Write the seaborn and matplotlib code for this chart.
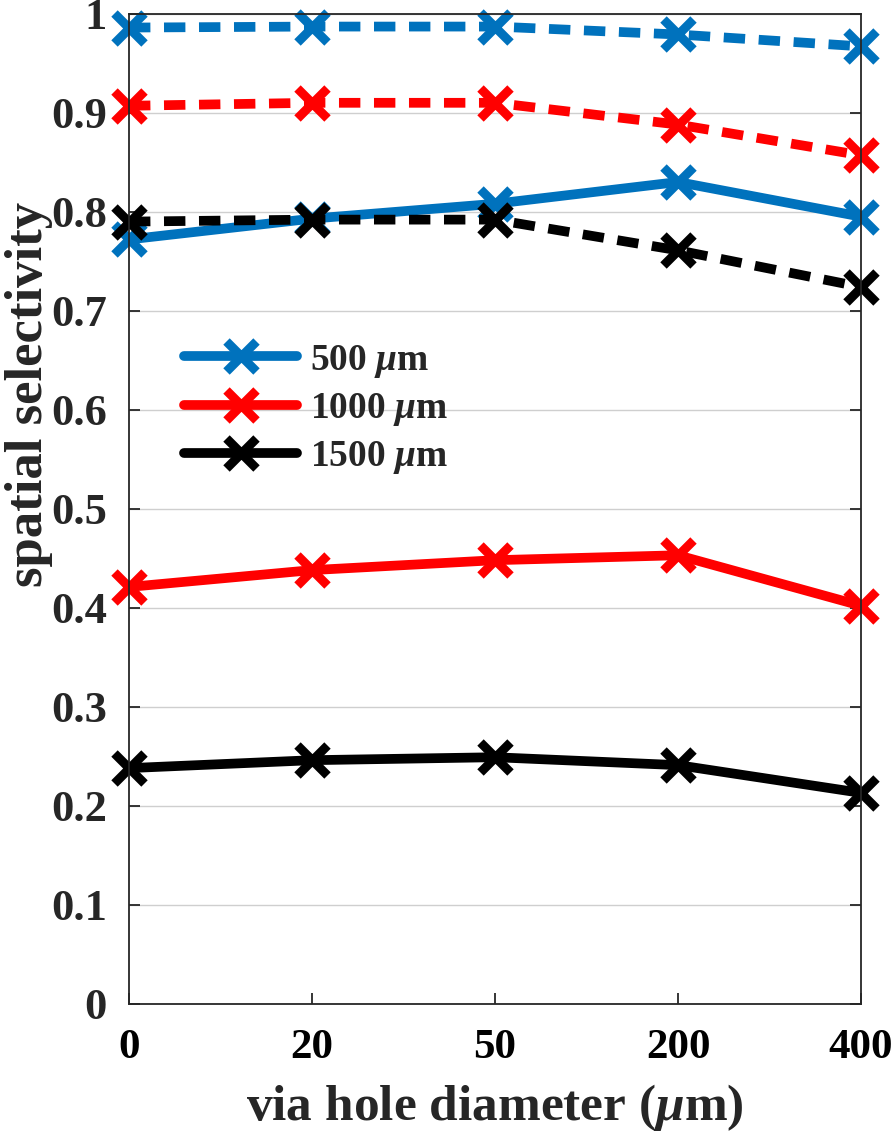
import pandas as pd
import seaborn as sns
import matplotlib.pyplot as plt
from matplotlib.lines import Line2D

# data
diameters = ['0', '20', '50', '200', '400']
lengths = ['500', '1000', '1500']
solid_500 = [0.772, 0.793, 0.808, 0.830, 0.795]
solid_1000 = [0.421, 0.438, 0.448, 0.453, 0.402]
solid_1500 = [0.238, 0.246, 0.249, 0.241, 0.213]
dashed_500 = [0.986, 0.987, 0.987, 0.979, 0.967]
dashed_1000 = [0.907, 0.910, 0.910, 0.888, 0.857]
dashed_1500 = [0.790, 0.792, 0.792, 0.761, 0.724]
yticks = [0, 0.1, 0.2, 0.3, 0.4, 0.5, 0.6, 0.7, 0.8, 0.9, 1]
ytick_labels = ['0', '0.1', '0.2', '0.3', '0.4', '0.5', '0.6', '0.7', '0.8', '0.9', '1']

colors = {'500': '#0072BD', '1000': '#FF0000', '1500': '#000000'}

rows = []
for length, kind, vals in [('500', 'solid', solid_500), ('1000', 'solid', solid_1000),
                           ('1500', 'solid', solid_1500), ('500', 'dashed', dashed_500),
                           ('1000', 'dashed', dashed_1000), ('1500', 'dashed', dashed_1500)]:
    for d, v in zip(diameters, vals):
        rows.append({'diameter': d, 'selectivity': v, 'length': length, 'kind': kind})
df = pd.DataFrame(rows)

sns.set_theme(style="white")
plt.rcParams['font.family'] = ['Liberation Serif', 'DejaVu Serif']
plt.rcParams['font.weight'] = 'bold'
plt.rcParams['mathtext.fontset'] = 'custom'
plt.rcParams['mathtext.rm'] = 'Liberation Serif:bold'
plt.rcParams['mathtext.it'] = 'Liberation Serif:italic:bold'

fig = plt.figure(figsize=(8.94, 11.32), dpi=100)
ax = fig.add_axes([0.1443, 0.1133, 0.8188, 0.8746])

sns.lineplot(data=df, x='diameter', y='selectivity', hue='length', style='kind',
             palette=colors, dashes={'solid': '', 'dashed': (2.2, 1.4)},
             markers={'solid': 'x', 'dashed': 'x'}, markersize=21, markeredgewidth=6.5,
             linewidth=7, sort=False, legend=False, ax=ax)
for line in ax.get_lines():
    line.set_markeredgecolor(line.get_color())
    line.set_clip_on(False)

ax.set_xlim(0, len(diameters) - 1)
ax.set_ylim(0, 1)
ax.set_yticks(yticks)
ax.set_yticklabels(ytick_labels)
ax.yaxis.grid(True, color='#cfcfcf', linewidth=1.0)
ax.xaxis.grid(False)
ax.set_axisbelow(True)
for s in ax.spines.values():
    s.set_color('#262626')
    s.set_linewidth(1.3)
ax.tick_params(axis='y', direction='in', length=8, width=1.3, right=True, left=True,
               labelsize=32, pad=16, color='#262626', labelcolor='#262626')
ax.tick_params(axis='x', direction='in', length=8, width=1.3, bottom=True,
               labelsize=31, pad=18, color='#262626', labelcolor='black')
for lab in ax.get_xticklabels() + ax.get_yticklabels():
    lab.set_fontweight('bold')

ax.set_xlabel(r'via hole diameter ($\mu$m)', fontsize=37, fontweight='bold',
              color='#262626')
ax.xaxis.set_label_coords(0.5, -0.079)
ax.set_ylabel('spatial selectivity', fontsize=38, fontweight='bold',
              color='#262626')
ax.yaxis.set_label_coords(-0.137, 0.615)
ax.yaxis.label.set_va('center')

handles = [Line2D([], [], color=colors[l], lw=7, marker='x', markersize=21,
                  markeredgewidth=6.5) for l in lengths]
labels = [l + r' $\mu$m' for l in lengths]
ax.legend(handles, labels, loc='upper left', bbox_to_anchor=(0.055, 0.683),
          frameon=False, fontsize=27, handlelength=3.0, labelspacing=0.3,
          handletextpad=0.35, borderaxespad=0)

fig.savefig('out.png', dpi=100)
